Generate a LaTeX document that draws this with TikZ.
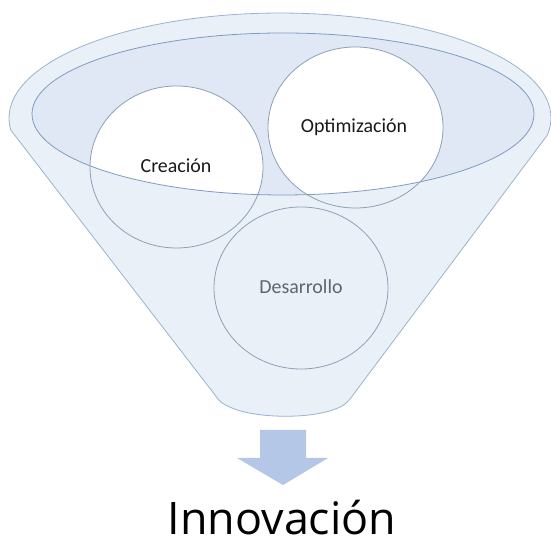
\documentclass[tikz,border=0pt]{standalone}
\usepackage{fontspec}
\setmainfont{Carlito}
\newfontfamily\bigfont{Open Sans}
\definecolor{funnelfill}{HTML}{EAF0F8}
\definecolor{funnelline}{HTML}{9BB2CE}
\definecolor{rimfill}{HTML}{DFE8F4}
\definecolor{rimline}{HTML}{7F9BC0}
\definecolor{circline}{HTML}{8FA0B4}
\definecolor{arrowfill}{HTML}{B4C7E7}
\definecolor{labelgray}{HTML}{5F6470}
\tikzset{
  lbl/.style={font=\fontsize{20}{24}\selectfont, text=black!90, inner sep=0pt},
  circ/.style={draw=circline, line width=0.8pt},
}
\begin{document}
\begin{tikzpicture}[x=1bp,y=1bp]
\useasboundingbox (0,0) rectangle (551,545);
% funnel body
\path[fill=funnelfill, draw=funnelline, line width=0.8pt]
  (547.4,410) arc[start angle=-9.3, end angle=186.6, x radius=271, y radius=105]
  -- (215,150) .. controls (219,144) and (222,141) .. (232,137)
  .. controls (255,127) and (310,125) .. (338,137)
  .. controls (345,140) and (348,143) .. (353,150) -- cycle;
% rim
\fill[rimfill] (283,431) ellipse[x radius=251, y radius=81];
\begin{scope}
  \clip (283,431) ellipse[x radius=251, y radius=81];
  \fill[white] (176.5,378) ellipse[x radius=86.5, y radius=81];
  \fill[white] (355.5,417.5) ellipse[x radius=87.5, y radius=80.5];
\end{scope}
\draw[rimline, line width=0.8pt] (283,431) ellipse[x radius=251, y radius=81];
% circles
\draw[circ] (176.5,378) ellipse[x radius=86.5, y radius=81];
\draw[circ] (355.5,417.5) ellipse[x radius=87.5, y radius=80.5];
\draw[circ] (301,257) ellipse[x radius=87, y radius=81];
% labels
\node[lbl] (creacion) at (176,379) {Creación};
\node[lbl] (optim) at (354,418) {Optimización};
\node[lbl, text=labelgray] (desarrollo) at (301,258) {Desarrollo};
% arrow
\fill[arrowfill] (260,115) -- (306,115) -- (306,87) -- (328,87) -- (283,60) -- (237,87) -- (260,87) -- cycle;
% result
\node[font=\bigfont\fontsize{45}{50}\selectfont, anchor=base, inner sep=0pt] (innov) at (282,10) {Innovación};
\end{tikzpicture}
\end{document}
